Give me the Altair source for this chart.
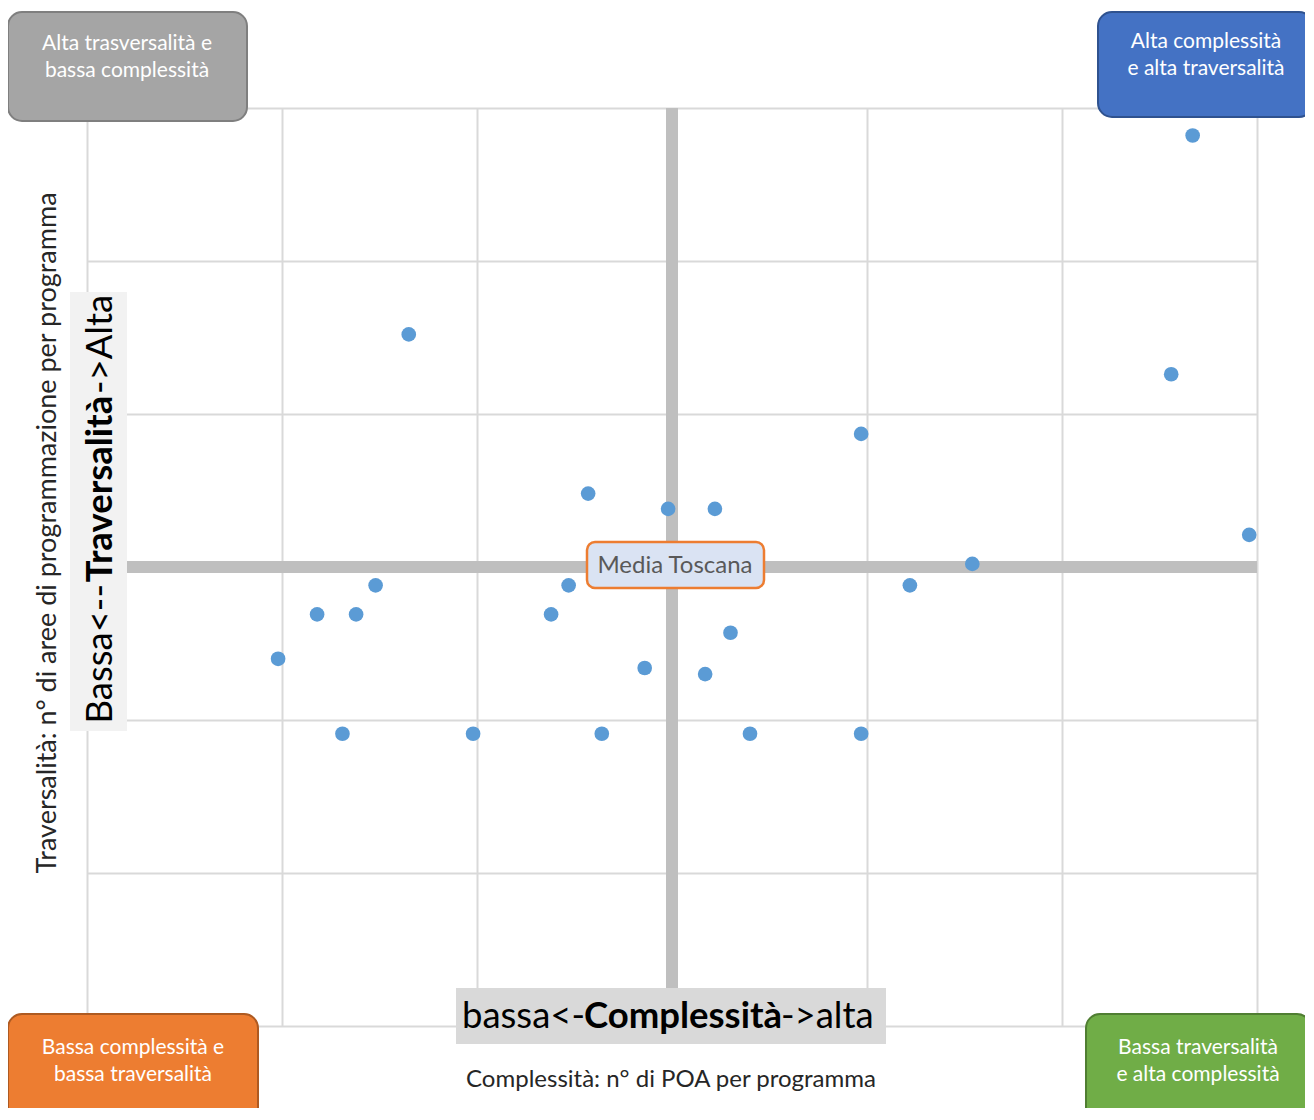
import altair as alt
import pandas as pd

# ---- data (grid units: x = complessità, y = traversalità) ----
complessita = [5.67, 1.65, 5.56, 3.97, 2.57, 2.98, 3.22, 5.96, 4.54, 1.48, 2.47, 4.22,
               1.18, 1.38, 2.38, 3.30, 0.98, 2.86, 3.17, 1.31, 1.98, 2.64, 3.40, 3.97]
traversalita = [5.82, 4.52, 4.26, 3.87, 3.48, 3.38, 3.38, 3.21, 3.02, 2.88, 2.88, 2.88,
                2.69, 2.69, 2.69, 2.57, 2.40, 2.34, 2.30, 1.91, 1.91, 1.91, 1.91, 1.91]
media_complessita = [3.0]
media_traversalita = [3.0]
grid_values = [0, 1, 2, 3, 4, 5, 6]

quad_top_left = ["Alta trasversalità e", "bassa complessità"]
quad_top_right = ["Alta complessità", "e alta traversalità"]
quad_bottom_left = ["Bassa complessità e", "bassa traversalità"]
quad_bottom_right = ["Bassa traversalità", "e alta complessità"]
media_label = "Media Toscana"
x_label_parts = ["bassa<-", "Complessità", "->alta"]
y_label_parts = ["Bassa<--", "Traversalità", "->Alta"]
x_title = "Complessità: n° di POA per programma"
y_title = "Traversalità: n° di aree di programmazione per programma"

FONT = "Lato"
W, H = 1170, 918

df = pd.DataFrame({"complessita": complessita, "traversalita": traversalita})
mean_df = pd.DataFrame({"mx": media_complessita, "my": media_traversalita})
one = pd.DataFrame({"k": [0]})

xs = alt.Scale(domain=[0, 6], nice=False, zero=False)
ys = alt.Scale(domain=[0, 6], nice=False, zero=False)
x_axis = alt.Axis(values=grid_values, labels=False, ticks=False, domain=False, title="",
                  grid=True, gridColor="#d9d9d9", gridWidth=2)
y_axis = alt.Axis(values=grid_values, labels=False, ticks=False, domain=False, title="",
                  grid=True, gridColor="#d9d9d9", gridWidth=2)

vrule = alt.Chart(mean_df).mark_rule(color="#bfbfbf", strokeWidth=12).encode(
    x=alt.X("mx:Q", scale=xs, axis=x_axis))
hrule = alt.Chart(mean_df).mark_rule(color="#bfbfbf", strokeWidth=12).encode(
    y=alt.Y("my:Q", scale=ys, axis=y_axis))

points = alt.Chart(df).mark_circle(size=215, color="#5b9bd5", opacity=1).encode(
    x=alt.X("complessita:Q", scale=xs, axis=x_axis),
    y=alt.Y("traversalita:Q", scale=ys, axis=y_axis))


def box(x1, x2, y1, y2, fill, stroke=None, sw=0, radius=0):
    kw = dict(fill=fill, cornerRadius=radius)
    if stroke:
        kw.update(stroke=stroke, strokeWidth=sw)
    return alt.Chart(one).mark_rect(**kw).encode(
        x=alt.value(x1), x2=alt.value(x2), y=alt.value(y1), y2=alt.value(y2))


def label(text, x, y, size, color, weight="normal", align="center",
          baseline="top", angle=0, line_height=27):
    kw = dict(text=text, font=FONT, fontSize=size, color=color, fontWeight=weight,
              align=align, baseline=baseline, lineHeight=line_height)
    if angle:
        kw["angle"] = angle
    return alt.Chart(one).mark_text(**kw).encode(x=alt.value(x), y=alt.value(y))


layers = [vrule, hrule, points]

# quadrant boxes
layers += [
    box(-79, 160, -96, 13, "#a5a5a5", "#7f7f7f", 2, 14),
    label(quad_top_left, 40, -75, 21, "#ffffff"),
    box(1011, 1226, -96, 9, "#4472c4", "#2f528f", 2, 14),
    label(quad_top_right, 1119, -77, 21, "#ffffff"),
    box(-79, 171, 906, 1030, "#ed7d31", "#ae5a21", 2, 14),
    label(quad_bottom_left, 46, 929, 21, "#ffffff"),
    box(999, 1224, 906, 1030, "#70ad47", "#507e32", 2, 14),
    label(quad_bottom_right, 1111, 929, 21, "#ffffff"),
]

# Media Toscana
layers += [
    box(500, 677, 434, 480, "#dae3f3", "#ed7d31", 2.5, 8),
    label(media_label, 588, 465, 24, "#595959", baseline="alphabetic"),
]

# bottom big label
bx_c, bx_half = 596, 98
layers += [
    box(369, 799, 880, 936, "#d9d9d9"),
    label(x_label_parts[0], bx_c - bx_half, 920, 36.5, "#000000", align="right", baseline="alphabetic"),
    label(x_label_parts[1], bx_c, 920, 36.5, "#000000", weight="bold", baseline="alphabetic"),
    label(x_label_parts[2], bx_c + bx_half, 920, 36.5, "#000000", align="left", baseline="alphabetic"),
]

# left big label (rotated)
by_c, by_half = 381, 95
layers += [
    box(-17, 40, 184, 623, "#f2f2f2"),
    label(y_label_parts[0], 14, by_c + by_half, 36.5, "#000000", align="right", baseline="middle", angle=270),
    label(y_label_parts[1], 14, by_c, 36.5, "#000000", weight="bold", baseline="middle", angle=270),
    label(y_label_parts[2], 14, by_c - by_half, 36.5, "#000000", align="left", baseline="middle", angle=270),
]

# axis titles
layers += [
    label(x_title, 584, 979, 24, "#262626", baseline="alphabetic"),
    label(y_title, -39, 425, 27, "#262626", baseline="middle", angle=270),
]

chart = alt.layer(*layers).properties(
    width=W, height=H,
    padding={"left": 79, "top": 100, "right": 48, "bottom": 82},
    autosize=alt.AutoSizeParams(type="none"),
    background="#ffffff",
).configure_view(strokeWidth=0).configure(font=FONT)

chart.save("out.html", embed_options={"renderer": "svg", "actions": False})
